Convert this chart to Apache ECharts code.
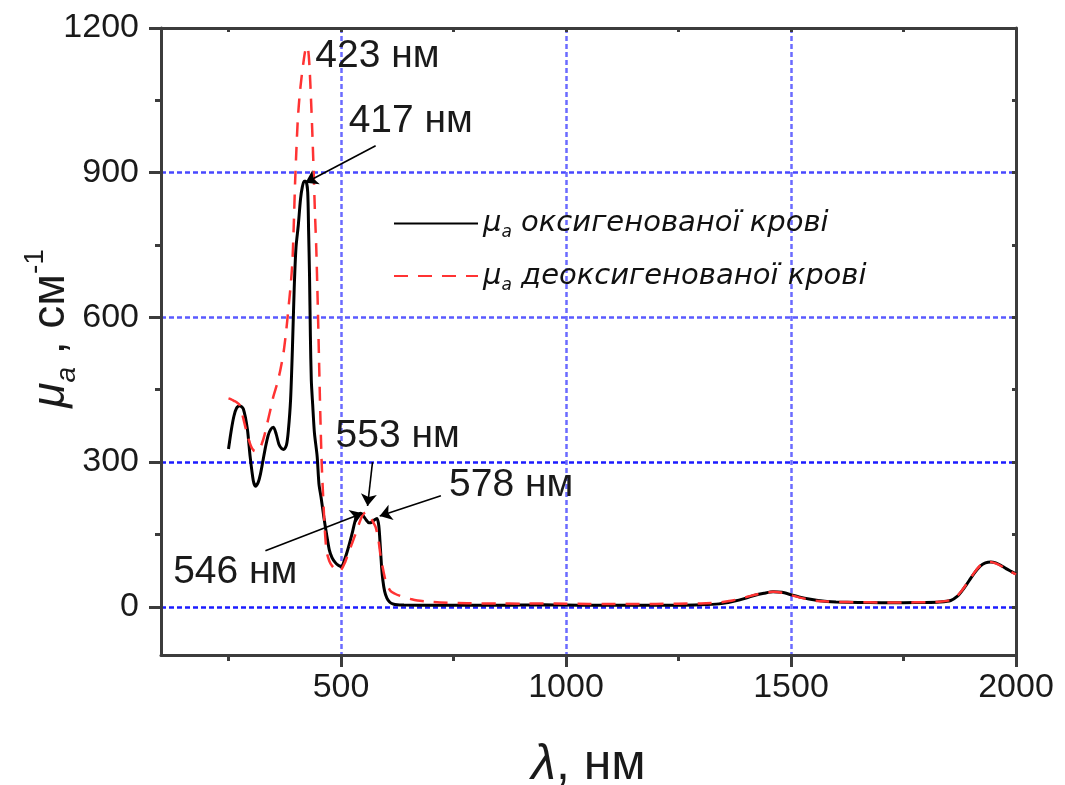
<!DOCTYPE html>
<html>
<head>
<meta charset="utf-8">
<script src="https://cdn.jsdelivr.net/npm/echarts@6/dist/echarts.min.js"></script>
<style>
html,body{margin:0;padding:0;background:#fff;}
#chart{width:1065px;height:785px;}
</style>
</head>
<body>
<div id="chart"></div>
<script>
// ---- data ----
const oxyName = 'μa оксигенованої крові';
const deoxyName = 'μa деоксигенованої крові';

const oxyWl = [250,256,262,268,275,283,292,298,305,310,316,321,327,332,338,344,350,356,362,368,373,379,383,388,392,396,400,405,410,414,418,422,426,428,430,432,434,437,441,447,451,456,462,468,474,480,487,494,501,507,514,520,526,532,538,544,550,556,562,568,574,580,584,587,590,593,597,602,608,615,625,640,700,750,800,850,900,950,1000,1050,1100,1150,1200,1250,1300,1340,1370,1400,1420,1440,1460,1480,1500,1520,1540,1560,1580,1600,1650,1700,1750,1800,1830,1855,1870,1880,1890,1900,1910,1920,1932,1944,1955,1966,1978,1990,2000];
const oxyMu = [327,365,395,412,417,410,368,312,262,250,258,275,305,330,355,368,372,358,337,328,326,336,365,430,534,660,745,790,845,870,882,882,860,780,690,560,470,420,360,312,255,225,185,150,118,102,92,86,83,95,115,135,157,180,190,194,188,180,174,175,180,183,168,130,85,55,32,18,10,6,4,3.5,3,3,3,3,3.5,4,3.5,3,3,3,3,3,4,6,11,18,24,28,31,30,25,20,16,13,11,10,9,8.5,8.5,9,10,13,22,33,46,60,73,84,91,93,91,86,79,73,68];

const deoxyWl = [250,256,262,268,275,283,292,300,306,312,318,324,330,336,343,350,358,365,372,378,383,388,392,395,398,401,404,408,412,416,420,424,427,430,433,436,439,442,445,448,451,454,457,460,464,468,474,480,487,494,500,508,516,524,532,540,548,555,562,570,577,583,588,593,598,604,611,620,630,640,655,670,690,720,760,800,850,900,950,1000,1050,1100,1150,1200,1250,1300,1340,1370,1400,1420,1440,1460,1480,1500,1520,1540,1560,1580,1600,1650,1700,1750,1800,1830,1855,1870,1880,1890,1900,1910,1920,1932,1944,1955,1966,1978,1990,2000];
const deoxyMu = [432,430,427,424,418,390,356,333,324,322,325,338,356,380,408,437,462,490,525,570,617,665,715,790,880,950,1010,1060,1095,1125,1150,1162,1155,1120,1060,990,910,820,745,640,520,400,300,235,160,115,95,85,78,74,76,90,110,130,150,172,190,196,190,178,165,140,105,80,58,42,32,27,23,20,16,13,11,9,8,7,7,6.5,7,6.5,6,6,6,6,6.5,7,9,13,20,25,29,31,29,24,19,15,12,11,10,9.5,9,9,9.5,10.5,14,23,34,47,61,74,85,92,93,90,85,78,72,67];

const xTickLabels = [500,1000,1500,2000];
const xMinorTicks = [250,750,1250,1750];
const xAllTicks = [250,500,750,1000,1250,1500,1750];
const yTickLabels = [0,300,600,900,1200];
const yMinorTicks = [150,450,750,1050];
const yAllTicks = [0,150,300,450,600,750,900,1050];

// annotations (data coordinates)
const annotLabels = ['423 нм','417 нм','553 нм','578 нм','546 нм'];
const annotAt = [[443,1142],[517,1006],[488,354],[740,252],[127,72]];
const arrowFrom = [[577,956],[570,300],[722,230],[332,116]];
const arrowTo   = [[421,879],[559,209],[586,188],[548,194]];

// ---- chart ----
const chart = echarts.init(document.getElementById('chart'), null, {renderer:'canvas'});
const AX = '#3c3c3c';
const FONT = 'Liberation Sans, Arial, sans-serif';
const plain = function(v){ return String(v); };

function pairs(xs, ys){ return xs.map((x,i)=>[x, ys[i]]); }

const legendRich = {
  mu:{fontFamily:'DejaVu Sans', fontStyle:'italic', fontSize:29, lineHeight:36, color:'#111'},
  sub:{fontFamily:'DejaVu Sans', fontStyle:'italic', fontSize:17, lineHeight:14, verticalAlign:'bottom', color:'#111'},
  t:{fontFamily:'DejaVu Sans', fontStyle:'italic', fontSize:29, lineHeight:36, color:'#111'}
};

const option = {
  animation:false,
  backgroundColor:'#fff',
  grid:{left:161, right:49, top:28, bottom:130, containLabel:false, outerBoundsMode:'none'},
  legend:{
    orient:'vertical', left:388, top:204, itemWidth:84, itemHeight:20, itemGap:20,
    data:[oxyName, deoxyName],
    itemStyle:{opacity:0},
    formatter:function(n){
      return n===oxyName ? '{mu|μ}{sub|a}{t| оксигенованої крові}' : '{mu|μ}{sub|a}{t| деоксигенованої крові}';
    },
    textStyle:{rich:legendRich}
  },
  xAxis:[
    {
      type:'value', position:'bottom', min:100, max:2000,
      axisLine:{show:true, onZero:false, lineStyle:{color:AX, width:3}},
      axisTick:{show:true, customValues:xTickLabels, length:12, lineStyle:{color:AX, width:3}},
      axisLabel:{customValues:xTickLabels, formatter:plain, fontSize:34, color:'#1a1a1a', fontFamily:FONT, margin:16},
      splitLine:{show:true, lineStyle:{color:'#6b6bff', width:2.5, type:[5,3]}},
      name:'{l|λ}{t|, нм}', nameLocation:'middle', nameGap:85, nameMoveOverlap:false,
      nameTextStyle:{rich:{
        l:{fontFamily:FONT, fontStyle:'italic', fontSize:50, color:'#1a1a1a'},
        t:{fontFamily:FONT, fontSize:50, color:'#1a1a1a'}
      }}
    },
    {
      type:'value', position:'bottom', min:100, max:2000,
      axisLine:{show:false, onZero:false},
      axisTick:{show:true, customValues:xMinorTicks, length:6, lineStyle:{color:AX, width:3}},
      axisLabel:{show:false}, splitLine:{show:false}
    },
    {
      type:'value', position:'top', min:100, max:2000,
      axisLine:{show:true, onZero:false, lineStyle:{color:AX, width:3}},
      axisTick:{show:true, inside:true, customValues:xAllTicks, length:4, lineStyle:{color:AX, width:3}},
      axisLabel:{show:false}, splitLine:{show:false}
    }
  ],
  yAxis:[
    {
      type:'value', position:'left', min:-100, max:1200,
      axisLine:{show:true, onZero:false, lineStyle:{color:AX, width:3}},
      axisTick:{show:true, customValues:yTickLabels, length:12, lineStyle:{color:AX, width:3}},
      axisLabel:{customValues:yTickLabels, formatter:plain, fontSize:34, color:'#1a1a1a', fontFamily:FONT, margin:22},
      splitLine:{show:true, lineStyle:{color:['#1c1cff','#1c1cff','#5a5aff','#4848ff','#5a5aff'], width:2.5, type:[5,3]}},
      name:'{mu|μ}{sub|a}{t| , см}{sup|-1}', nameLocation:'middle', nameRotate:90, nameGap:80, nameMoveOverlap:false,
      nameTextStyle:{padding:[0,0,0,26], rich:{
        mu:{fontFamily:FONT, fontStyle:'italic', fontSize:46, lineHeight:60, color:'#1a1a1a'},
        sub:{fontFamily:FONT, fontStyle:'italic', fontSize:28, lineHeight:22, verticalAlign:'bottom', color:'#1a1a1a'},
        t:{fontFamily:FONT, fontSize:46, lineHeight:60, color:'#1a1a1a'},
        sup:{fontFamily:FONT, fontSize:28, lineHeight:36, verticalAlign:'top', color:'#1a1a1a'}
      }}
    },
    {
      type:'value', position:'left', min:-100, max:1200,
      axisLine:{show:false, onZero:false},
      axisTick:{show:true, customValues:yMinorTicks, length:6, lineStyle:{color:AX, width:3}},
      axisLabel:{show:false}, splitLine:{show:false}
    },
    {
      type:'value', position:'right', min:-100, max:1200,
      axisLine:{show:true, onZero:false, lineStyle:{color:AX, width:3}},
      axisTick:{show:true, inside:true, customValues:yAllTicks, length:4, lineStyle:{color:AX, width:3}},
      axisLabel:{show:false}, splitLine:{show:false}
    }
  ],
  series:[
    {
      name:oxyName, type:'line', xAxisIndex:0, yAxisIndex:0,
      data:pairs(oxyWl, oxyMu), showSymbol:false, symbol:'none', smooth:0.25, z:3,
      lineStyle:{color:'#000', width:3},
      itemStyle:{color:'#000'},
      markLine:{
        silent:true, symbol:['none','arrow'], symbolSize:12,
        lineStyle:{color:'#000', width:1.6, type:'solid'},
        label:{show:false},
        data:arrowFrom.map((p,i)=>[{coord:p},{coord:arrowTo[i]}])
      },
      markPoint:{
        silent:true, symbol:'circle', symbolSize:0,
        label:{show:true, position:'right', distance:0, fontSize:39, color:'#1a1a1a', fontFamily:FONT,
               formatter:function(p){return p.name;}},
        data:annotLabels.map((t,i)=>({name:t, coord:annotAt[i]}))
      }
    },
    {
      name:deoxyName, type:'line', xAxisIndex:0, yAxisIndex:0,
      data:pairs(deoxyWl, deoxyMu), showSymbol:false, symbol:'none', smooth:0.25, z:4,
      lineStyle:{color:'#ff3333', width:2.5, type:[14,10]},
      itemStyle:{color:'#ff3333'}
    }
  ]
};
chart.setOption(option);
</script>
</body>
</html>
